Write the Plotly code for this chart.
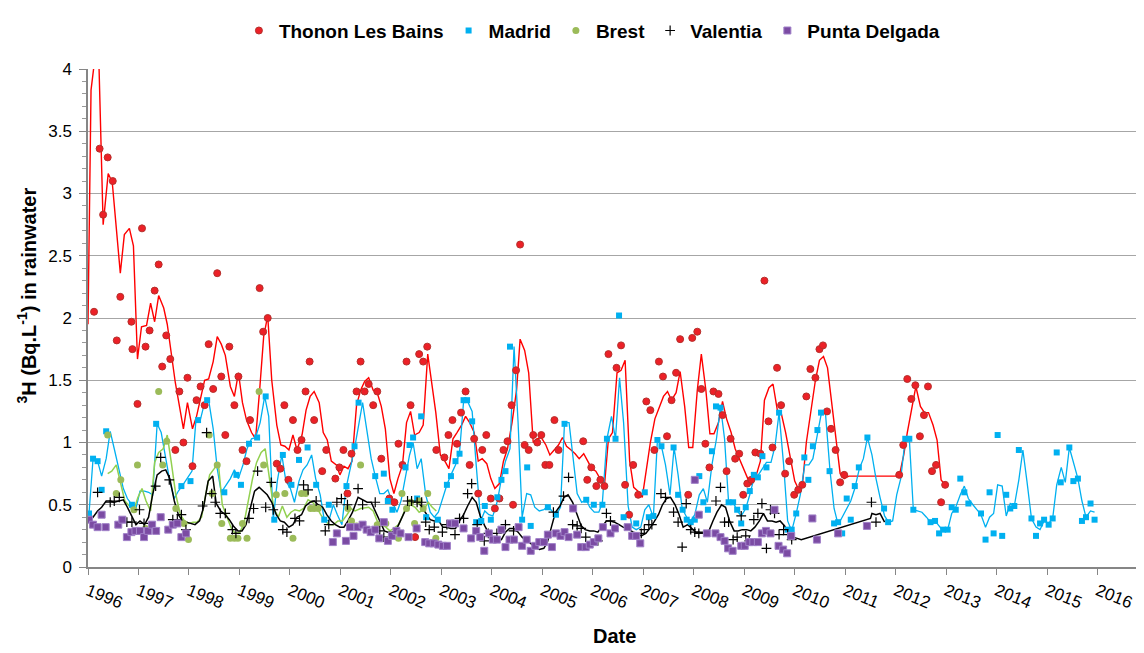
import plotly.graph_objects as go

# ---------------- data (decimal years, Bq/L) ----------------
thonon_year = [1996.12, 1996.23, 1996.30, 1996.39, 1996.49, 1996.57, 1996.64, 1996.86, 1996.88, 1996.98,
               1997.07, 1997.14, 1997.22, 1997.32, 1997.40, 1997.47, 1997.55, 1997.63, 1997.73, 1997.81,
               1997.89, 1997.97, 1998.07, 1998.15, 1998.23, 1998.31, 1998.39, 1998.48, 1998.56, 1998.64,
               1998.72, 1998.80, 1998.90, 1998.98, 1999.06, 1999.14, 1999.21, 1999.40, 1999.47, 1999.56,
               1999.74, 1999.81, 1999.89, 1999.97, 2000.06, 2000.15, 2000.23, 2000.31, 2000.39, 2000.48,
               2000.64, 2000.72, 2000.90, 2000.98, 2001.06, 2001.14, 2001.22, 2001.32, 2001.40, 2001.48,
               2001.56, 2001.65, 2001.73, 2001.81, 2001.97, 2002.07, 2002.15, 2002.23, 2002.31, 2002.39,
               2002.48, 2002.56, 2002.64, 2002.72, 2002.90, 2003.06, 2003.14, 2003.22, 2003.31, 2003.39,
               2003.48, 2003.56, 2003.65, 2003.73, 2003.81, 2003.89, 2003.98, 2004.06, 2004.15, 2004.23,
               2004.31, 2004.39, 2004.42, 2004.48, 2004.56, 2004.65, 2004.73, 2004.82, 2004.90, 2004.98,
               2005.06, 2005.14, 2005.24, 2005.32, 2005.81, 2005.89, 2005.97, 2006.07, 2006.15, 2006.23,
               2006.31, 2006.47, 2006.56, 2006.64, 2006.72, 2006.80, 2006.90, 2007.06, 2007.14, 2007.22,
               2007.31, 2007.39, 2007.47, 2007.56, 2007.65, 2007.73, 2007.89, 2007.97, 2008.07, 2008.15,
               2008.23, 2008.31, 2008.39, 2008.49, 2008.57, 2008.65, 2008.73, 2008.82, 2008.90, 2008.98,
               2009.06, 2009.14, 2009.22, 2009.32, 2009.40, 2009.48, 2009.56, 2009.65, 2009.73, 2009.81,
               2009.89, 2009.99, 2010.07, 2010.15, 2010.23, 2010.31, 2010.41, 2010.49, 2010.56, 2010.64,
               2010.72, 2010.81, 2010.90, 2010.98, 2012.07, 2012.15, 2012.23, 2012.31, 2012.39, 2012.48,
               2012.56, 2012.64, 2012.72, 2012.80, 2012.90, 2012.98]
thonon_val = [2.05, 3.36, 2.83, 3.29, 3.10, 1.82, 2.17, 1.97, 1.75, 1.31,
              2.72, 1.77, 1.90, 2.22, 2.43, 1.61, 1.86, 1.67, 0.94, 1.41,
              1.00, 1.52, 0.81, 1.34, 1.45, 1.30, 1.79, 1.43, 2.36, 1.53,
              1.06, 1.77, 1.30, 1.53, 0.94, 0.85, 1.18, 2.24, 1.89, 2.00,
              0.83, 0.79, 1.30, 0.70, 1.18, 0.94, 1.02, 1.41, 1.65, 1.18,
              0.77, 0.94, 0.71, 0.80, 0.94, 0.59, 0.91, 1.41, 1.65, 1.41,
              1.47, 1.30, 1.41, 0.87, 0.55, 0.52, 0.99, 0.82, 1.65, 1.30,
              0.24, 1.71, 1.65, 1.77, 0.94, 0.88, 1.06, 1.18, 0.99, 1.24,
              1.41, 0.82, 1.03, 0.59, 0.94, 1.06, 0.55, 0.47, 0.55, 0.94,
              1.01, 1.30, 0.50, 1.58, 2.59, 0.98, 0.94, 1.06, 1.00, 1.06,
              0.82, 0.82, 1.18, 0.94, 1.01, 0.70, 0.80, 0.65, 0.70, 0.65,
              1.71, 1.60, 1.78, 0.66, 0.42, 0.82, 0.58, 1.33, 1.26, 0.94,
              1.65, 1.53, 1.05, 1.34, 1.56, 1.83, 0.58, 1.84, 1.89, 1.43,
              0.99, 0.80, 1.41, 1.39, 1.22, 0.77, 1.03, 0.87, 0.91, 0.58,
              0.67, 0.70, 0.92, 0.91, 2.30, 1.17, 0.96, 1.60, 1.30, 0.75,
              0.85, 0.58, 0.62, 0.66, 1.37, 1.59, 1.52, 1.75, 1.78, 1.25,
              1.11, 0.94, 0.68, 0.74, 0.74, 0.98, 1.51, 1.35, 1.46, 1.05,
              1.22, 1.45, 0.77, 0.82, 0.52, 0.66]

thonon_ma_year = [1996.00, 1996.06, 1996.20, 1996.30, 1996.40, 1996.48, 1996.64, 1996.72, 1996.82, 1996.90,
                  1996.98, 1997.06, 1997.16, 1997.24, 1997.32, 1997.40, 1997.50, 1997.57, 1997.73, 1997.89,
                  1997.97, 1998.07, 1998.15, 1998.23, 1998.31, 1998.39, 1998.48, 1998.56, 1998.64, 1998.72,
                  1998.82, 1998.90, 1998.98, 1999.06, 1999.14, 1999.24, 1999.32, 1999.40, 1999.48, 1999.56,
                  1999.64, 1999.74, 1999.82, 1999.90, 1999.98, 2000.06, 2000.14, 2000.24, 2000.32, 2000.40,
                  2000.48, 2000.58, 2000.66, 2000.74, 2000.82, 2000.92, 2000.99, 2001.07, 2001.15, 2001.23,
                  2001.32, 2001.40, 2001.48, 2001.56, 2001.65, 2001.73, 2001.81, 2001.89, 2001.98, 2002.06,
                  2002.14, 2002.23, 2002.31, 2002.39, 2002.47, 2002.56, 2002.64, 2002.73, 2002.81, 2002.89,
                  2002.98, 2003.07, 2003.15, 2003.23, 2003.31, 2003.40, 2003.48, 2003.56, 2003.65, 2003.73,
                  2003.81, 2003.90, 2003.98, 2004.06, 2004.15, 2004.23, 2004.31, 2004.40, 2004.49, 2004.56,
                  2004.65, 2004.73, 2004.82, 2004.89, 2004.98, 2005.07, 2005.15, 2005.23, 2005.32, 2005.40,
                  2005.48, 2005.57, 2005.65, 2005.73, 2005.82, 2005.90, 2005.98, 2006.06, 2006.15, 2006.23,
                  2006.31, 2006.39, 2006.48, 2006.56, 2006.64, 2006.73, 2006.81, 2006.89, 2006.98, 2007.06,
                  2007.14, 2007.23, 2007.31, 2007.40, 2007.48, 2007.56, 2007.65, 2007.73, 2007.82, 2007.90,
                  2007.98, 2008.07, 2008.15, 2008.24, 2008.32, 2008.40, 2008.49, 2008.57, 2008.65, 2008.74,
                  2008.82, 2008.90, 2008.99, 2009.07, 2009.15, 2009.24, 2009.32, 2009.40, 2009.49, 2009.57,
                  2009.66, 2009.73, 2009.82, 2009.91, 2010.00, 2010.07, 2010.16, 2010.23, 2010.32, 2010.41,
                  2010.49, 2010.57, 2010.65, 2010.74, 2010.82, 2010.90, 2010.98, 2011.07, 2012.07, 2012.16,
                  2012.23, 2012.32, 2012.40, 2012.49, 2012.57, 2012.65, 2012.74, 2012.82, 2012.90, 2012.98]
thonon_ma_val = [1.95, 3.83, 4.30, 2.75, 3.16, 3.09, 2.36, 2.67, 2.72, 2.58,
                 1.67, 1.93, 1.94, 2.12, 1.97, 2.18, 2.08, 1.95, 1.48, 1.11,
                 1.32, 1.11, 1.21, 1.36, 1.50, 1.51, 1.65, 1.85, 1.79, 1.70,
                 1.45, 1.37, 1.56, 1.32, 1.18, 1.08, 1.03, 1.42, 1.85, 2.02,
                 1.50, 1.14, 0.98, 0.97, 0.94, 1.06, 0.94, 1.06, 1.26, 1.37,
                 1.41, 1.32, 1.08, 1.02, 0.85, 0.82, 0.74, 0.81, 0.79, 0.85,
                 1.30, 1.42, 1.49, 1.52, 1.42, 1.40, 1.29, 1.11, 0.71, 0.59,
                 0.71, 0.82, 1.16, 1.25, 1.06, 1.08, 1.14, 1.71, 1.48, 1.24,
                 0.90, 0.85, 0.79, 1.03, 1.08, 1.14, 1.21, 1.16, 1.08, 0.85,
                 0.87, 0.83, 0.71, 0.63, 0.67, 0.85, 0.95, 1.16, 1.42, 1.83,
                 1.74, 1.56, 1.00, 1.03, 1.04, 0.98, 0.90, 0.94, 0.98, 1.04,
                 0.97, 0.94, 0.91, 0.87, 0.91, 0.85, 0.79, 0.77, 0.71, 0.65,
                 1.03, 1.08, 1.56, 1.58, 1.66, 0.85, 0.64, 0.61, 0.56, 0.79,
                 1.00, 1.19, 1.27, 1.37, 1.41, 1.34, 1.40, 1.57, 1.29, 0.96,
                 0.96, 1.42, 1.71, 1.42, 1.07, 1.07, 1.16, 1.33, 1.19, 1.08,
                 0.95, 0.87, 0.79, 0.71, 0.66, 0.74, 0.85, 1.34, 1.44, 1.47,
                 1.25, 1.24, 1.08, 0.87, 0.69, 0.63, 0.69, 1.00, 1.27, 1.50,
                 1.66, 1.69, 1.60, 1.29, 0.98, 0.75, 0.71, 0.73, 0.73, 0.90,
                 1.08, 1.29, 1.45, 1.29, 1.24, 1.24, 1.14, 1.02, 0.70, 0.66]

madrid_year = [1996.02, 1996.10, 1996.19, 1996.27, 1996.36, 1996.87, 1997.35, 1997.85, 1998.03, 1998.18,
               1998.36, 1998.70, 1998.94, 1999.03, 1999.19, 1999.35, 1999.52, 1999.69, 1999.86, 2000.03,
               2000.18, 2000.35, 2000.52, 2000.68, 2000.77, 2001.12, 2001.28, 2001.36, 2001.69, 2001.86,
               2001.94, 2002.03, 2002.29, 2002.37, 2002.44, 2002.52, 2002.60, 2002.70, 2002.93, 2003.11,
               2003.19, 2003.28, 2003.36, 2003.44, 2003.51, 2003.61, 2003.69, 2003.79, 2003.86, 2003.98,
               2004.11, 2004.19, 2004.27, 2004.36, 2004.60, 2004.70, 2004.77, 2005.11, 2005.27, 2005.44,
               2005.87, 2006.02, 2006.19, 2006.28, 2006.45, 2006.52, 2006.61, 2006.86, 2007.03, 2007.11,
               2007.20, 2007.28, 2007.36, 2007.60, 2007.69, 2007.78, 2007.86, 2007.94, 2008.02, 2008.11,
               2008.19, 2008.28, 2008.36, 2008.44, 2008.53, 2008.69, 2008.78, 2008.86, 2008.94, 2009.03,
               2009.11, 2009.19, 2009.27, 2009.36, 2009.44, 2009.69, 2009.86, 2009.94, 2010.03, 2010.19,
               2010.27, 2010.36, 2010.45, 2010.52, 2010.69, 2010.78, 2010.86, 2010.94, 2011.03, 2011.11,
               2011.19, 2011.27, 2011.44, 2011.77, 2011.85, 2012.19, 2012.27, 2012.35, 2012.69, 2012.78,
               2012.86, 2012.94, 2013.03, 2013.11, 2013.19, 2013.28, 2013.36, 2013.44, 2013.69, 2013.78,
               2013.86, 2013.94, 2014.02, 2014.11, 2014.19, 2014.27, 2014.35, 2014.44, 2014.69, 2014.78,
               2014.86, 2014.94, 2015.03, 2015.11, 2015.19, 2015.27, 2015.44, 2015.52, 2015.61, 2015.69,
               2015.77, 2015.86, 2015.94]
madrid_val = [0.43, 0.87, 0.85, 0.62, 1.09, 0.50, 1.15, 0.65, 0.69, 1.18,
              1.34, 0.60, 0.74, 0.66, 0.99, 1.04, 1.37, 0.38, 0.90, 0.66,
              0.86, 0.96, 0.66, 0.38, 0.50, 0.65, 0.97, 1.32, 0.73, 0.75,
              0.53, 0.46, 0.80, 0.98, 1.04, 0.55, 1.21, 0.40, 0.38, 0.66,
              0.73, 0.85, 0.91, 1.34, 1.34, 1.17, 0.36, 0.37, 0.49, 0.38,
              0.56, 0.70, 0.77, 1.77, 0.38, 0.80, 0.33, 0.48, 0.42, 1.15,
              0.54, 0.50, 0.50, 1.03, 1.03, 2.02, 0.40, 0.35, 0.60, 0.40,
              0.41, 1.02, 0.97, 0.96, 0.58, 0.46, 0.38, 0.36, 0.38, 0.73,
              0.52, 0.46, 0.93, 1.29, 1.28, 0.52, 0.52, 0.46, 0.35, 0.48,
              0.61, 0.74, 0.72, 0.89, 0.80, 1.24, 0.30, 0.30, 0.43, 0.88,
              0.70, 0.97, 1.10, 1.24, 0.77, 0.35, 0.36, 0.27, 0.55, 0.38,
              0.65, 0.80, 1.04, 0.47, 0.36, 1.03, 1.03, 0.46, 0.36, 0.37,
              0.27, 0.30, 0.30, 0.48, 0.46, 0.71, 0.60, 0.51, 0.43, 0.22,
              0.60, 0.27, 1.06, 0.25, 0.58, 0.47, 0.49, 0.94, 0.39, 0.25,
              0.35, 0.38, 0.34, 0.39, 0.92, 0.68, 0.96, 0.69, 0.71, 0.37,
              0.40, 0.51, 0.38]

madrid_ma_year = [1996.02, 1996.10, 1996.19, 1996.27, 1996.36, 1996.44, 1996.52, 1996.61, 1996.70, 1996.78,
                  1996.87, 1996.95, 1997.03, 1997.12, 1997.20, 1997.28, 1997.37, 1997.45, 1997.54, 1997.62,
                  1997.71, 1997.79, 1997.88, 1997.96, 1998.06, 1998.14, 1998.23, 1998.31, 1998.39, 1998.48,
                  1998.56, 1998.64, 1998.73, 1998.82, 1998.90, 1998.98, 1999.07, 1999.15, 1999.24, 1999.32,
                  1999.41, 1999.50, 1999.58, 1999.67, 1999.75, 1999.84, 1999.92, 2000.01, 2000.09, 2000.18,
                  2000.26, 2000.34, 2000.43, 2000.51, 2000.60, 2000.68, 2000.77, 2000.86, 2000.94, 2001.03,
                  2001.11, 2001.20, 2001.28, 2001.44, 2001.53, 2001.61, 2001.69, 2001.78, 2001.86, 2001.94,
                  2002.03, 2002.12, 2002.20, 2002.29, 2002.37, 2002.44, 2002.52, 2002.60, 2002.69, 2002.78,
                  2002.86, 2002.94, 2003.03, 2003.11, 2003.19, 2003.28, 2003.36, 2003.44, 2003.52, 2003.61,
                  2003.69, 2003.78, 2003.86, 2003.94, 2004.02, 2004.11, 2004.19, 2004.27, 2004.36, 2004.44,
                  2004.52, 2004.60, 2004.69, 2004.77, 2004.85, 2004.94, 2005.03, 2005.11, 2005.19, 2005.28,
                  2005.36, 2005.44, 2005.53, 2005.61, 2005.69, 2005.78, 2005.87, 2005.94, 2006.03, 2006.12,
                  2006.19, 2006.28, 2006.37, 2006.45, 2006.53, 2006.61, 2006.70, 2006.78, 2006.86, 2006.95,
                  2007.03, 2007.11, 2007.20, 2007.28, 2007.36, 2007.44, 2007.53, 2007.61, 2007.69, 2007.77,
                  2007.86, 2007.94, 2008.02, 2008.11, 2008.19, 2008.27, 2008.36, 2008.45, 2008.53, 2008.61,
                  2008.69, 2008.78, 2008.86, 2008.94, 2009.03, 2009.11, 2009.19, 2009.28, 2009.36, 2009.44,
                  2009.53, 2009.61, 2009.69, 2009.78, 2009.86, 2009.94, 2010.03, 2010.11, 2010.20, 2010.28,
                  2010.36, 2010.45, 2010.53, 2010.61, 2010.70, 2010.78, 2010.86, 2010.94, 2011.03, 2011.11,
                  2011.19, 2011.28, 2011.36, 2011.44, 2011.53, 2011.61, 2011.69, 2011.78, 2011.86, 2011.94,
                  2012.02, 2012.10, 2012.19, 2012.27, 2012.35, 2012.52, 2012.61, 2012.69, 2012.78, 2012.86,
                  2012.94, 2013.03, 2013.11, 2013.19, 2013.28, 2013.36, 2013.44, 2013.53, 2013.61, 2013.69,
                  2013.78, 2013.86, 2013.94, 2014.02, 2014.11, 2014.19, 2014.27, 2014.35, 2014.44, 2014.52,
                  2014.60, 2014.69, 2014.78, 2014.86, 2014.94, 2015.03, 2015.11, 2015.19, 2015.28, 2015.36,
                  2015.44, 2015.52, 2015.61, 2015.69, 2015.77, 2015.86, 2015.94]
madrid_ma_val = [0.43, 0.87, 0.85, 0.73, 0.87, 1.09, 0.95, 0.79, 0.63, 0.55,
                 0.50, 0.47, 0.61, 0.61, 0.60, 0.58, 1.15, 1.08, 0.87, 0.69,
                 0.55, 0.61, 0.66, 0.71, 0.77, 1.19, 1.19, 1.32, 1.34, 1.11,
                 0.79, 0.60, 0.66, 0.71, 0.78, 0.71, 0.82, 0.95, 1.03, 1.04,
                 1.16, 1.37, 1.21, 0.38, 0.69, 0.90, 0.69, 0.63, 0.52, 0.69,
                 0.78, 0.82, 0.90, 0.71, 0.58, 0.38, 0.37, 0.50, 0.42, 0.34,
                 0.63, 0.79, 0.95, 1.32, 1.08, 0.87, 0.73, 0.59, 0.59, 0.62,
                 0.52, 0.44, 0.53, 0.71, 0.90, 1.00, 0.79, 0.87, 0.58, 0.44,
                 0.40, 0.44, 0.56, 0.66, 0.74, 0.82, 0.92, 1.33, 1.33, 1.25,
                 0.82, 0.37, 0.45, 0.42, 0.41, 0.53, 0.71, 0.85, 0.95, 1.77,
                 1.16, 0.40, 0.59, 0.58, 0.48, 0.45, 0.46, 0.49, 0.45, 0.42,
                 0.48, 1.16, 1.16, 0.85, 0.59, 0.52, 0.54, 0.48, 0.44, 0.44,
                 0.52, 1.03, 1.21, 1.03, 1.52, 1.16, 0.49, 0.32, 0.30, 0.32,
                 0.46, 0.50, 0.40, 1.02, 0.97, 0.82, 0.58, 0.96, 0.74, 0.47,
                 0.40, 0.37, 0.42, 0.58, 0.63, 0.52, 0.82, 1.03, 1.29, 1.03,
                 0.52, 0.52, 0.45, 0.41, 0.47, 0.58, 0.71, 0.74, 0.79, 0.84,
                 0.84, 0.97, 1.24, 0.82, 0.37, 0.29, 0.43, 0.58, 0.82, 0.82,
                 0.87, 1.08, 1.24, 1.23, 0.77, 0.47, 0.34, 0.40, 0.47, 0.53,
                 0.63, 0.79, 0.87, 1.04, 0.90, 0.71, 0.56, 0.41, 0.36, 0.37,
                 0.58, 0.71, 1.03, 1.03, 0.46, 0.44, 0.40, 0.36, 0.37, 0.33,
                 0.29, 0.30, 0.43, 0.48, 0.58, 0.65, 0.55, 0.50, 0.46, 0.42,
                 0.32, 0.40, 0.43, 0.66, 0.65, 0.41, 0.51, 0.49, 0.70, 0.94,
                 0.69, 0.39, 0.32, 0.30, 0.37, 0.35, 0.39, 0.66, 0.80, 0.68,
                 0.96, 0.85, 0.71, 0.53, 0.40, 0.45, 0.44]

brest_year = [1996.39, 1996.56, 1996.65, 1996.91, 1996.98, 1997.14, 1997.40, 1997.48, 1997.56, 1997.74,
              1997.90, 1997.99, 1998.40, 1998.46, 1998.56, 1998.65, 1998.82, 1998.90, 1998.97, 1999.06,
              1999.15, 1999.39, 1999.48, 1999.73, 1999.90, 2000.06, 2000.23, 2000.31, 2000.41, 2000.48,
              2000.56, 2001.15, 2001.22, 2001.32, 2001.40, 2001.73, 2001.90, 2002.15, 2002.22, 2002.31,
              2002.39, 2002.47, 2002.56, 2002.64, 2002.73, 2002.89]
brest_val = [1.06, 0.59, 0.70, 0.46, 0.82, 0.31, 1.41, 0.82, 1.01, 0.47,
             0.35, 0.22, 1.06, 0.59, 0.82, 0.35, 0.23, 0.23, 0.23, 0.35,
             0.23, 1.41, 0.82, 0.58, 0.59, 0.23, 0.59, 0.59, 0.47, 0.47,
             0.47, 0.47, 0.37, 0.33, 0.82, 0.34, 0.35, 0.23, 0.59, 0.47,
             0.52, 0.35, 0.53, 0.47, 0.59, 0.23]

brest_ma_year = [1996.39, 1996.47, 1996.56, 1996.64, 1996.73, 1996.82, 1996.90, 1996.99, 1997.07, 1997.15,
                 1997.24, 1997.32, 1997.40, 1997.49, 1997.57, 1997.65, 1997.74, 1997.83, 1997.91, 1998.00,
                 1998.08, 1998.16, 1998.25, 1998.33, 1998.41, 1998.50, 1998.58, 1998.66, 1998.75, 1998.84,
                 1998.92, 1999.01, 1999.09, 1999.17, 1999.26, 1999.34, 1999.43, 1999.51, 1999.59, 1999.68,
                 1999.77, 1999.85, 1999.94, 2000.02, 2000.10, 2000.19, 2000.27, 2000.36, 2000.45, 2000.53,
                 2000.61, 2000.70, 2000.78, 2000.87, 2000.95, 2001.04, 2001.13, 2001.21, 2001.29, 2001.40,
                 2001.56, 2001.65, 2001.73, 2001.81, 2001.90, 2001.98, 2002.06, 2002.15, 2002.23, 2002.31,
                 2002.40, 2002.48, 2002.56, 2002.65, 2002.74, 2002.82, 2002.90]
brest_ma_val = [0.75, 0.77, 0.82, 0.69, 0.53, 0.49, 0.45, 0.56, 0.63, 0.53,
                0.45, 0.84, 0.92, 0.95, 1.06, 0.84, 0.58, 0.42, 0.37, 0.35,
                0.36, 0.36, 0.40, 0.58, 0.74, 0.79, 0.84, 0.50, 0.40, 0.31,
                0.27, 0.28, 0.35, 0.53, 0.71, 0.84, 0.92, 0.95, 0.71, 0.47,
                0.40, 0.49, 0.40, 0.44, 0.46, 0.45, 0.47, 0.54, 0.52, 0.48,
                0.42, 0.37, 0.34, 0.34, 0.37, 0.37, 0.42, 0.47, 0.45, 0.47,
                0.48, 0.45, 0.37, 0.34, 0.32, 0.29, 0.31, 0.34, 0.41, 0.49,
                0.50, 0.48, 0.44, 0.46, 0.52, 0.48, 0.45]

valentia_year = [1996.19, 1996.44, 1996.52, 1996.62, 1996.77, 1996.87, 1997.02, 1997.11, 1997.34, 1997.44,
                 1997.61, 1997.68, 1997.77, 1997.85, 1997.94, 1998.27, 1998.35, 1998.45, 1998.52, 1998.62,
                 1998.72, 1998.86, 1998.93, 1999.19, 1999.28, 1999.36, 1999.52, 1999.63, 1999.67, 1999.86,
                 1999.94, 2000.10, 2000.19, 2000.27, 2000.36, 2000.52, 2000.70, 2000.77, 2000.93, 2001.02,
                 2001.14, 2001.35, 2001.44, 2001.69, 2001.78, 2001.86, 2002.33, 2002.41, 2002.52, 2002.61,
                 2002.69, 2002.76, 2002.86, 2003.02, 2003.11, 2003.27, 2003.36, 2003.44, 2003.52, 2003.60,
                 2003.71, 2003.85, 2003.93, 2004.10, 2004.27, 2004.43, 2005.22, 2005.42, 2005.52, 2005.60,
                 2005.69, 2005.77, 2005.86, 2006.10, 2006.27, 2006.35, 2006.96, 2007.02, 2007.11, 2007.17,
                 2007.35, 2007.44, 2007.60, 2007.69, 2007.77, 2007.85, 2007.94, 2008.02, 2008.10, 2008.44,
                 2008.53, 2008.61, 2008.69, 2008.78, 2008.86, 2008.94, 2009.03, 2009.10, 2009.19, 2009.27,
                 2009.35, 2009.44, 2009.52, 2009.60, 2009.69, 2009.78, 2009.86, 2009.94, 2011.52, 2011.61]
valentia_val = [0.60, 0.52, 0.53, 0.56, 0.36, 0.36, 0.46, 0.35, 0.65, 0.88,
                0.70, 0.38, 0.38, 0.42, 0.30, 0.49, 1.08, 0.59, 0.52, 0.43,
                0.43, 0.30, 0.27, 0.39, 0.47, 0.77, 0.48, 0.68, 0.46, 0.30,
                0.28, 0.39, 0.37, 0.66, 0.62, 0.53, 0.29, 0.34, 0.52, 0.55,
                0.50, 0.63, 0.50, 0.52, 0.29, 0.24, 0.53, 0.53, 0.52, 0.52,
                0.36, 0.30, 0.32, 0.28, 0.34, 0.26, 0.39, 0.39, 0.59, 0.67,
                0.34, 0.21, 0.27, 0.27, 0.34, 0.29, 0.44, 0.57, 0.72, 0.34,
                0.33, 0.31, 0.24, 0.21, 0.43, 0.37, 0.27, 0.30, 0.34, 0.34,
                0.59, 0.56, 0.44, 0.36, 0.16, 0.51, 0.30, 0.28, 0.27, 0.53,
                0.64, 0.36, 0.36, 0.22, 0.24, 0.41, 0.25, 0.21, 0.38, 0.43,
                0.51, 0.15, 0.46, 0.43, 0.26, 0.30, 0.26, 0.22, 0.52, 0.36]

valentia_ma_year = [1996.02, 1996.10, 1996.19, 1996.27, 1996.36, 1996.44, 1996.52, 1996.61, 1996.70, 1996.78,
                    1996.87, 1996.95, 1997.03, 1997.12, 1997.20, 1997.28, 1997.37, 1997.46, 1997.54, 1997.62,
                    1997.71, 1997.79, 1997.87, 1997.96, 1998.04, 1998.12, 1998.21, 1998.29, 1998.38, 1998.47,
                    1998.54, 1998.63, 1998.72, 1998.80, 1998.88, 1998.97, 1999.05, 1999.13, 1999.22, 1999.30,
                    1999.39, 1999.48, 1999.55, 1999.64, 1999.73, 1999.81, 1999.89, 1999.98, 2000.06, 2000.14,
                    2000.23, 2000.31, 2000.40, 2000.48, 2000.56, 2000.65, 2000.73, 2000.82, 2000.90, 2000.99,
                    2001.07, 2001.15, 2001.24, 2001.35, 2001.44, 2001.53, 2001.61, 2001.69, 2001.78, 2001.87,
                    2001.94, 2002.03, 2002.12, 2002.19, 2002.28, 2002.36, 2002.45, 2002.53, 2002.61, 2002.70,
                    2002.78, 2002.86, 2002.95, 2003.03, 2003.11, 2003.19, 2003.28, 2003.36, 2003.44, 2003.52,
                    2003.61, 2003.69, 2003.77, 2003.86, 2003.94, 2004.02, 2004.10, 2004.19, 2004.27, 2004.35,
                    2004.44, 2004.52, 2004.60, 2004.69, 2004.77, 2004.85, 2004.94, 2005.03, 2005.10, 2005.18,
                    2005.26, 2005.35, 2005.43, 2005.51, 2005.60, 2005.69, 2005.77, 2005.85, 2005.94, 2006.02,
                    2006.10, 2006.19, 2006.27, 2006.35, 2006.43, 2006.52, 2006.60, 2006.68, 2006.80, 2006.88,
                    2006.96, 2007.05, 2007.13, 2007.21, 2007.30, 2007.38, 2007.46, 2007.54, 2007.63, 2007.71,
                    2007.79, 2007.88, 2007.96, 2008.04, 2008.13, 2008.29, 2008.38, 2008.46, 2008.55, 2008.63,
                    2008.71, 2008.80, 2008.88, 2008.96, 2009.05, 2009.13, 2009.21, 2009.30, 2009.38, 2009.46,
                    2009.55, 2009.63, 2009.71, 2009.80, 2009.88, 2009.96, 2010.05, 2010.13, 2011.50, 2011.53,
                    2011.61, 2011.69, 2011.78]
valentia_ma_val = [0.42, 0.40, 0.45, 0.48, 0.53, 0.53, 0.52, 0.53, 0.54, 0.48,
                   0.41, 0.34, 0.37, 0.34, 0.40, 0.58, 0.74, 0.77, 0.78, 0.71,
                   0.53, 0.42, 0.37, 0.36, 0.35, 0.34, 0.37, 0.48, 0.69, 0.73,
                   0.51, 0.45, 0.42, 0.38, 0.33, 0.29, 0.29, 0.34, 0.48, 0.61,
                   0.64, 0.61, 0.58, 0.52, 0.42, 0.37, 0.36, 0.32, 0.34, 0.40,
                   0.42, 0.49, 0.52, 0.53, 0.50, 0.48, 0.42, 0.37, 0.34, 0.32,
                   0.32, 0.37, 0.44, 0.56, 0.54, 0.52, 0.52, 0.45, 0.37, 0.29,
                   0.28, 0.28, 0.31, 0.37, 0.45, 0.49, 0.52, 0.53, 0.48, 0.42,
                   0.38, 0.37, 0.37, 0.32, 0.32, 0.31, 0.31, 0.37, 0.42, 0.49,
                   0.56, 0.52, 0.41, 0.33, 0.27, 0.24, 0.21, 0.22, 0.28, 0.31,
                   0.31, 0.28, 0.24, 0.21, 0.19, 0.16, 0.14, 0.15, 0.20, 0.32,
                   0.44, 0.49, 0.56, 0.58, 0.52, 0.42, 0.33, 0.30, 0.29, 0.29,
                   0.28, 0.33, 0.37, 0.37, 0.36, 0.34, 0.32, 0.31, 0.28, 0.27,
                   0.25, 0.27, 0.31, 0.36, 0.42, 0.50, 0.55, 0.56, 0.50, 0.42,
                   0.32, 0.34, 0.31, 0.28, 0.28, 0.28, 0.37, 0.44, 0.50, 0.48,
                   0.37, 0.29, 0.29, 0.30, 0.30, 0.29, 0.32, 0.37, 0.43, 0.37,
                   0.37, 0.36, 0.37, 0.33, 0.27, 0.24, 0.23, 0.22, 0.39, 0.43,
                   0.42, 0.43, 0.36]

punta_year = [1996.02, 1996.10, 1996.19, 1996.27, 1996.35, 1996.60, 1996.68, 1996.77, 1996.86, 1996.94,
              1997.03, 1997.11, 1997.19, 1997.27, 1997.35, 1997.44, 1997.59, 1997.68, 1997.77, 1997.85,
              1997.94, 2000.85, 2000.93, 2001.11, 2001.19, 2001.26, 2001.34, 2001.44, 2001.52, 2001.60,
              2001.69, 2001.77, 2001.86, 2001.94, 2002.02, 2002.11, 2002.19, 2002.35, 2002.51, 2002.68,
              2002.76, 2002.85, 2002.94, 2003.03, 2003.11, 2003.18, 2003.27, 2003.44, 2003.59, 2003.69,
              2003.77, 2003.85, 2003.94, 2004.02, 2004.10, 2004.19, 2004.27, 2004.35, 2004.44, 2004.53,
              2004.60, 2004.69, 2004.77, 2004.86, 2004.94, 2005.03, 2005.11, 2005.19, 2005.27, 2005.36,
              2005.44, 2005.52, 2005.61, 2005.69, 2005.77, 2005.86, 2005.94, 2006.02, 2006.11, 2006.20,
              2006.35, 2006.44, 2006.69, 2006.78, 2006.86, 2006.94, 2008.02, 2008.10, 2008.26, 2008.43,
              2008.53, 2008.61, 2008.68, 2008.77, 2008.94, 2009.01, 2009.10, 2009.18, 2009.27, 2009.35,
              2009.43, 2009.52, 2009.60, 2009.68, 2009.77, 2009.85, 2009.93, 2010.35, 2010.44, 2010.86,
              2011.43]
punta_val = [0.38, 0.34, 0.32, 0.42, 0.32, 0.34, 0.38, 0.24, 0.28, 0.29,
             0.29, 0.24, 0.29, 0.34, 0.29, 0.40, 0.30, 0.34, 0.35, 0.24,
             0.27, 0.20, 0.27, 0.21, 0.32, 0.25, 0.32, 0.34, 0.30, 0.28,
             0.30, 0.23, 0.36, 0.21, 0.25, 0.29, 0.27, 0.24, 0.31, 0.20,
             0.19, 0.19, 0.18, 0.17, 0.17, 0.35, 0.35, 0.31, 0.23, 0.29,
             0.24, 0.13, 0.27, 0.22, 0.22, 0.30, 0.16, 0.22, 0.22, 0.32,
             0.17, 0.22, 0.13, 0.17, 0.20, 0.20, 0.26, 0.16, 0.27, 0.25,
             0.28, 0.24, 0.47, 0.26, 0.16, 0.16, 0.18, 0.20, 0.23, 0.32,
             0.27, 0.31, 0.32, 0.25, 0.25, 0.19, 0.70, 0.42, 0.27, 0.27,
             0.24, 0.21, 0.15, 0.13, 0.17, 0.17, 0.20, 0.20, 0.20, 0.27,
             0.29, 0.27, 0.46, 0.17, 0.14, 0.11, 0.25, 0.39, 0.22, 0.27,
             0.33]

year_ticks = list(range(1996, 2017))
year_labels = [str(y) for y in year_ticks]
y_ticks = [0, 0.5, 1, 1.5, 2, 2.5, 3, 3.5, 4]
y_labels = ["0", "0.5", "1", "1.5", "2", "2.5", "3", "3.5", "4"]

FONT = "Liberation Sans, Arial, sans-serif"

fig = go.Figure()

# moving-average lines (not in legend)
fig.add_trace(go.Scatter(x=thonon_ma_year, y=thonon_ma_val, mode="lines",
                         line=dict(color="#ff0000", width=1.4), showlegend=False, hoverinfo="skip"))
fig.add_trace(go.Scatter(x=madrid_ma_year, y=madrid_ma_val, mode="lines",
                         line=dict(color="#00b0f0", width=1.3), showlegend=False, hoverinfo="skip"))
fig.add_trace(go.Scatter(x=brest_ma_year, y=brest_ma_val, mode="lines",
                         line=dict(color="#92d050", width=1.5), showlegend=False, hoverinfo="skip"))
fig.add_trace(go.Scatter(x=valentia_ma_year, y=valentia_ma_val, mode="lines",
                         line=dict(color="#000000", width=1.5), showlegend=False, hoverinfo="skip"))

# measured points
fig.add_trace(go.Scatter(x=thonon_year, y=thonon_val, mode="markers", name="Thonon Les Bains",
                         marker=dict(symbol="circle", size=7, color="#ec2027",
                                     line=dict(color="#b5302c", width=1))))
fig.add_trace(go.Scatter(x=madrid_year, y=madrid_val, mode="markers", name="Madrid",
                         marker=dict(symbol="square", size=6, color="#00b0f0", line=dict(width=0))))
fig.add_trace(go.Scatter(x=brest_year, y=brest_val, mode="markers", name="Brest",
                         marker=dict(symbol="circle", size=7, color="#9bbb59", line=dict(width=0))))
fig.add_trace(go.Scatter(x=valentia_year, y=valentia_val, mode="markers", name="Valentia",
                         marker=dict(symbol="cross-thin", size=7,
                                     line=dict(color="#000000", width=1.2))))
fig.add_trace(go.Scatter(x=punta_year, y=punta_val, mode="markers", name="Punta Delgada",
                         marker=dict(symbol="square", size=7, color="#7b4ba3",
                                     line=dict(color="#a080c8", width=1))))

# page body has an 8px margin: figure is 1136x645 drawn at (8, 8)
fig.update_layout(
    width=1136, height=645,
    margin=dict(l=79.5, r=4, t=53, b=86),
    paper_bgcolor="white", plot_bgcolor="white",
    font=dict(family=FONT, color="#000000"),
    showlegend=True,
    legend=dict(orientation="h", x=0.479, xanchor="center", y=1.077, yanchor="middle",
                font=dict(family=FONT, size=19, weight="bold", color="#000000"),
                itemwidth=30, tracegroupgap=0, bgcolor="rgba(0,0,0,0)"),
    xaxis=dict(range=[1996, 2016.84], tickmode="array", tickvals=year_ticks, ticktext=year_labels,
               tickangle=22, ticks="outside", ticklen=6, tickcolor="#868686",
               showline=True, linecolor="#868686", linewidth=1.5,
               showgrid=False, zeroline=False,
               tickfont=dict(family=FONT, size=17, color="#000000")),
    yaxis=dict(range=[0, 4], tickmode="array", tickvals=y_ticks, ticktext=y_labels,
               ticks="outside", ticklen=7, tickcolor="#868686", ticklabelstandoff=4,
               showline=True, linecolor="#868686", linewidth=1.5,
               showgrid=True, gridcolor="#a6a6a6", gridwidth=1.3, zeroline=False,
               minor=dict(dtick=0.1, ticks="outside", ticklen=4, tickcolor="#9a9a9a", showgrid=False),
               tickfont=dict(family=FONT, size=17, color="#000000")),
    annotations=[
        dict(text="<b><sup>3</sup>H (Bq.L<sup>-1</sup>) in rainwater</b>", xref="paper", yref="paper",
             x=-0.058, y=0.545, xanchor="center", yanchor="middle", textangle=-90, showarrow=False,
             font=dict(family=FONT, size=20, color="#000000")),
        dict(text="<b>Date</b>", xref="paper", yref="paper", x=0.5, y=-0.138,
             xanchor="center", yanchor="middle", showarrow=False,
             font=dict(family=FONT, size=20, color="#000000")),
    ],
)

fig.write_html("out.html")
